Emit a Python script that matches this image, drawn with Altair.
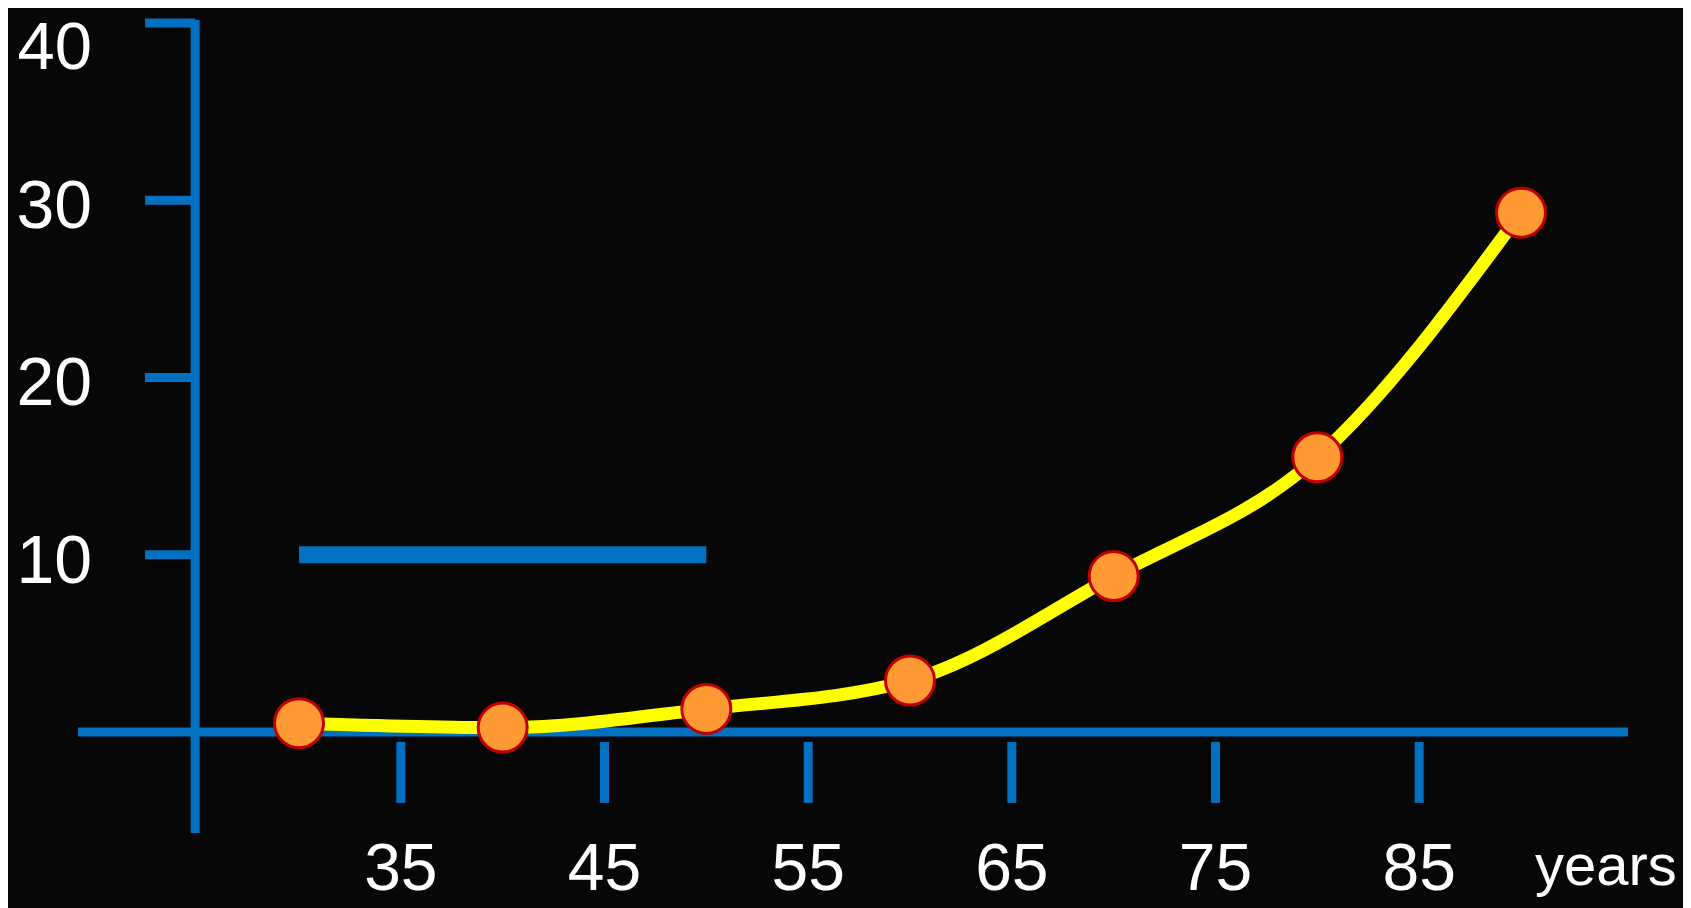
import altair as alt
import pandas as pd

# ---- data ----
ages = [30, 40, 50, 60, 70, 80, 90]
values = [0.5, 0.25, 1.3, 2.9, 8.8, 15.5, 29.3]

x_ticks = [35, 45, 55, 65, 75, 85]
y_ticks = [10, 20, 30, 40]

bar_start, bar_end, bar_level = 30, 50, 10

x_axis_start, x_axis_end = 19.15, 95.25
y_axis_at = 24.9
y_axis_low, y_axis_high = -5.7, 40.17
x_tick_top, x_tick_bottom = -0.56, -4.0
y_tick_left = 22.44
y_label_anchor = 19.84

# ---- colours / styles ----
BG = "#070707"
BLUE = "#0070c0"
YELLOW = "#ffff00"
ORANGE = "#ff9933"
RED = "#c00000"
FONT = "Liberation Sans"

W, H = 1675, 900
xs = alt.Scale(domain=[15.712, 97.954], nice=False, zero=False)
ys = alt.Scale(domain=[-9.93, 40.846], nice=False, zero=False)

pts = pd.DataFrame({"age": ages, "value": values})
xt = pd.DataFrame({"age": x_ticks, "lab": [str(v) for v in x_ticks],
                   "top": [x_tick_top] * len(x_ticks), "bot": [x_tick_bottom] * len(x_ticks),
                   "zero": [0] * len(x_ticks)})
yt = pd.DataFrame({"v": y_ticks, "lab": [str(v) for v in y_ticks],
                   "l": [y_tick_left] * len(y_ticks), "r": [y_axis_at] * len(y_ticks),
                   "la": [y_label_anchor] * len(y_ticks)})
top_tick = max(y_ticks)

X = lambda f: alt.X(f, scale=xs, axis=None)
Y = lambda f: alt.Y(f, scale=ys, axis=None)

x_axis_line = alt.Chart(pd.DataFrame({"a": [x_axis_start], "b": [x_axis_end], "v": [0]})).mark_rule(
    color=BLUE, strokeWidth=9, strokeCap="butt").encode(x=X("a:Q"), x2="b:Q", y=Y("v:Q"))

y_axis_line = alt.Chart(pd.DataFrame({"a": [y_axis_at], "lo": [y_axis_low], "hi": [y_axis_high]})).mark_rule(
    color=BLUE, strokeWidth=9, strokeCap="butt").encode(x=X("a:Q"), y=Y("lo:Q"), y2="hi:Q")

x_tick_marks = alt.Chart(xt).mark_rule(color=BLUE, strokeWidth=9, strokeCap="butt").encode(
    x=X("age:Q"), y=Y("top:Q"), y2="bot:Q")

y_tick_marks = alt.Chart(yt).mark_rule(color=BLUE, strokeWidth=9, strokeCap="butt").encode(
    x=X("l:Q"), x2="r:Q", y=Y("v:Q"))

x_labels = alt.Chart(xt).mark_text(
    color="white", font=FONT, fontSize=66, align="center", baseline="alphabetic", dy=158).encode(
    x=X("age:Q"), y=Y("zero:Q"), text="lab:N")

y_labels = alt.Chart(yt).transform_filter(f"datum.v < {top_tick}").mark_text(
    color="white", font=FONT, fontSize=68, align="right", baseline="alphabetic", dy=28).encode(
    x=X("la:Q"), y=Y("v:Q"), text="lab:N")

# the top label sits a little lower so it stays fully inside the picture
y_label_top = alt.Chart(yt).transform_filter(f"datum.v == {top_tick}").mark_text(
    color="white", font=FONT, fontSize=67, align="right", baseline="alphabetic", dy=46).encode(
    x=X("la:Q"), y=Y("v:Q"), text="lab:N")

years_label = alt.Chart(pd.DataFrame({"t": ["years"], "a": [ages[-1]], "v": [0]})).mark_text(
    color="white", font=FONT, fontSize=58, align="left", baseline="alphabetic", dx=14, dy=153).encode(
    x=X("a:Q"), y=Y("v:Q"), text="t:N")

bar = alt.Chart(pd.DataFrame({"a": [bar_start], "b": [bar_end], "v": [bar_level]})).mark_rule(
    color=BLUE, strokeWidth=17, strokeCap="butt").encode(x=X("a:Q"), x2="b:Q", y=Y("v:Q"))

curve = alt.Chart(pts).mark_line(color=YELLOW, strokeWidth=13, interpolate="monotone").encode(
    x=X("age:Q"), y=Y("value:Q"))

dots = alt.Chart(pts).mark_point(
    filled=True, fill=ORANGE, stroke=RED, strokeWidth=3, size=2400, opacity=1, shape="circle").encode(
    x=X("age:Q"), y=Y("value:Q"))

chart = alt.layer(
    x_axis_line, y_axis_line, x_tick_marks, y_tick_marks, x_labels, y_labels, y_label_top,
    years_label, bar, curve, dots
).properties(
    width=W, height=H, background=BG, padding=0,
    autosize=alt.AutoSizeParams(type="none")
).configure_view(stroke=None)

chart.save("out.html", embed_options={"renderer": "svg", "actions": False})
